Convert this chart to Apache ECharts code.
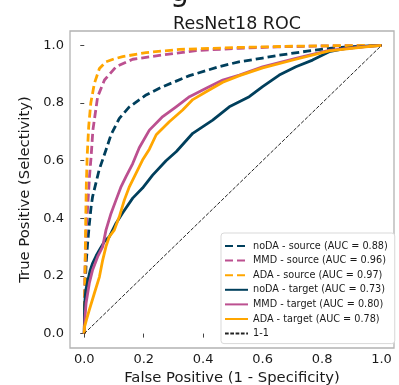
<!DOCTYPE html>
<html><head><meta charset="utf-8">
<script src="https://cdn.jsdelivr.net/npm/echarts@6/dist/echarts.min.js"></script>
<style>html,body{margin:0;padding:0;background:#fff}#c{width:399px;height:385px}</style>
</head><body><div id="c"></div><script>
const tickValues = [0, 0.2, 0.4, 0.6, 0.8, 1.0];

const noDASourceFpr = [0,0.002,0.006,0.011,0.017,0.023,0.028,0.05,0.073,0.09,0.118,0.15,0.208,0.26,0.354,0.45,0.52,0.6,0.656,0.75,0.824,0.9,1];
const noDASourceTpr = [0,0.12,0.24,0.31,0.38,0.44,0.475,0.568,0.637,0.69,0.747,0.785,0.828,0.855,0.895,0.925,0.943,0.956,0.966,0.98,0.99,0.996,1];

const mmdSourceFpr = [0,0.002,0.006,0.012,0.018,0.023,0.029,0.045,0.068,0.107,0.163,0.264,0.376,0.52,0.65,0.8,1];
const mmdSourceTpr = [0,0.2,0.35,0.45,0.55,0.614,0.706,0.822,0.88,0.926,0.952,0.967,0.982,0.99,0.995,0.998,1];

const adaSourceFpr = [0,0.001,0.003,0.005,0.007,0.01,0.015,0.022,0.034,0.051,0.073,0.1,0.129,0.208,0.32,0.52,0.7,0.85,1];
const adaSourceTpr = [0,0.1,0.25,0.4,0.52,0.62,0.72,0.8,0.868,0.92,0.943,0.953,0.961,0.975,0.986,0.993,0.997,0.999,1];

const noDATargetFpr = [0,0.001,0.005,0.011,0.02,0.028,0.04,0.051,0.068,0.084,0.107,0.13,0.163,0.196,0.23,0.275,0.31,0.365,0.432,0.488,0.555,0.6,0.656,0.712,0.768,0.824,0.88,0.95,1];
const noDATargetTpr = [0,0.1,0.15,0.18,0.22,0.244,0.27,0.29,0.32,0.336,0.383,0.42,0.47,0.505,0.55,0.6,0.632,0.695,0.741,0.787,0.822,0.857,0.897,0.926,0.949,0.978,0.99,0.997,1];

const mmdTargetFpr = [0,0.002,0.006,0.017,0.028,0.045,0.062,0.073,0.09,0.107,0.124,0.14,0.163,0.185,0.219,0.264,0.309,0.354,0.41,0.466,0.522,0.6,0.712,0.824,0.937,1];
const mmdTargetTpr = [0,0.05,0.105,0.175,0.221,0.267,0.302,0.359,0.417,0.464,0.51,0.544,0.59,0.645,0.706,0.753,0.787,0.822,0.851,0.88,0.897,0.926,0.955,0.983,0.995,1];

const adaTargetFpr = [0,0.001,0.008,0.017,0.034,0.051,0.062,0.073,0.084,0.101,0.118,0.135,0.152,0.174,0.196,0.219,0.242,0.286,0.331,0.365,0.41,0.466,0.522,0.6,0.712,0.824,0.937,1];
const adaTargetTpr = [0,0.024,0.05,0.082,0.14,0.197,0.255,0.302,0.336,0.359,0.406,0.464,0.51,0.556,0.602,0.64,0.69,0.735,0.776,0.812,0.839,0.872,0.895,0.922,0.952,0.981,0.994,1];

const diagFpr = [0, 1];
const diagTpr = [0, 1];

const seriesNames = [
  'noDA - source (AUC = 0.88)', 'MMD - source (AUC = 0.96)', 'ADA - source (AUC = 0.97)',
  'noDA - target (AUC = 0.73)', 'MMD - target (AUC = 0.80)', 'ADA - target (AUC = 0.78)', '1-1'
];

const C_NODA = '#003f5c', C_MMD = '#bc5090', C_ADA = '#ffa600';
const FONT = 'DejaVu Sans';

function pairs(xs, ys) { return xs.map((x, i) => [x, ys[i]]); }
function mk(name, xs, ys, color, dashed, width) {
  return {
    name, type: 'line', data: pairs(xs, ys), symbol: 'none', showSymbol: false,
    animation: false, silent: true, clip: true,
    lineStyle: { color, width, type: dashed ? dashed : 'solid', cap: 'butt', join: 'round' },
    itemStyle: { color }
  };
}

const chart = echarts.init(document.getElementById('c'), null, { renderer: 'canvas' });
chart.setOption({
  animation: false,
  backgroundColor: '#fff',
  textStyle: { fontFamily: FONT },
  title: {
    text: 'ResNet18 ROC', left: 232, top: 10, textAlign: 'center',
    textStyle: { fontFamily: FONT, fontSize: 17.5, fontWeight: 'normal', color: '#1a1a1a' }
  },
  graphic: [{
    type: 'text', left: 170, top: -22,
    style: { text: 'g', fontFamily: FONT, fontSize: 30, fill: '#1a1a1a' }
  }],
  grid: {
    left: 70, right: 5, top: 31, bottom: 37, show: true,
    borderColor: '#b3b3b3', borderWidth: 1.3, backgroundColor: 'transparent',
    outerBoundsMode: 'none'
  },
  legend: {
    orient: 'vertical', left: 221, top: 233,
    padding: [8, 7, 5, 3], itemGap: 4.6, itemWidth: 23, itemHeight: 10,
    backgroundColor: '#fff', borderColor: '#d9d9d9', borderWidth: 1, borderRadius: 3,
    itemStyle: { opacity: 0, borderWidth: 0 },
    textStyle: { fontFamily: FONT, fontSize: 9.7, color: '#1a1a1a' },
    data: seriesNames
  },
  xAxis: {
    type: 'value', min: -0.048, max: 1.042,
    name: 'False Positive (1 - Specificity)', nameLocation: 'middle', nameGap: 21,
    nameTextStyle: { fontFamily: FONT, fontSize: 14.8, color: '#1a1a1a' },
    axisLine: { show: false },
    axisTick: { show: true, inside: false, length: 4, customValues: tickValues, lineStyle: { color: '#444', width: 1 } },
    axisLabel: { customValues: tickValues, margin: 5, fontFamily: FONT, fontSize: 13, color: '#1a1a1a', formatter: v => v.toFixed(1) },
    splitLine: { show: false }
  },
  yAxis: {
    type: 'value', min: -0.05, max: 1.05,
    name: 'True Positive (Selectivity)', nameLocation: 'middle', nameGap: 32,
    nameTextStyle: { fontFamily: FONT, fontSize: 14.8, color: '#1a1a1a' },
    axisLine: { show: false },
    axisTick: { show: true, inside: false, length: 4, customValues: tickValues, lineStyle: { color: '#444', width: 1 } },
    axisLabel: { customValues: tickValues, margin: 6, fontFamily: FONT, fontSize: 13, color: '#1a1a1a', formatter: v => v.toFixed(1) },
    splitLine: { show: false }
  },
  series: [
    mk(seriesNames[0], noDASourceFpr, noDASourceTpr, C_NODA, [8, 4], 2.8),
    mk(seriesNames[1], mmdSourceFpr, mmdSourceTpr, C_MMD, [8, 4], 2.8),
    mk(seriesNames[2], adaSourceFpr, adaSourceTpr, C_ADA, [8, 4], 2.8),
    mk(seriesNames[3], noDATargetFpr, noDATargetTpr, C_NODA, null, 2.8),
    mk(seriesNames[4], mmdTargetFpr, mmdTargetTpr, C_MMD, null, 2.8),
    mk(seriesNames[5], adaTargetFpr, adaTargetTpr, C_ADA, null, 2.8),
    mk(seriesNames[6], diagFpr, diagTpr, '#222', [3.7, 1.6], 1)
  ]
});
</script></body></html>
